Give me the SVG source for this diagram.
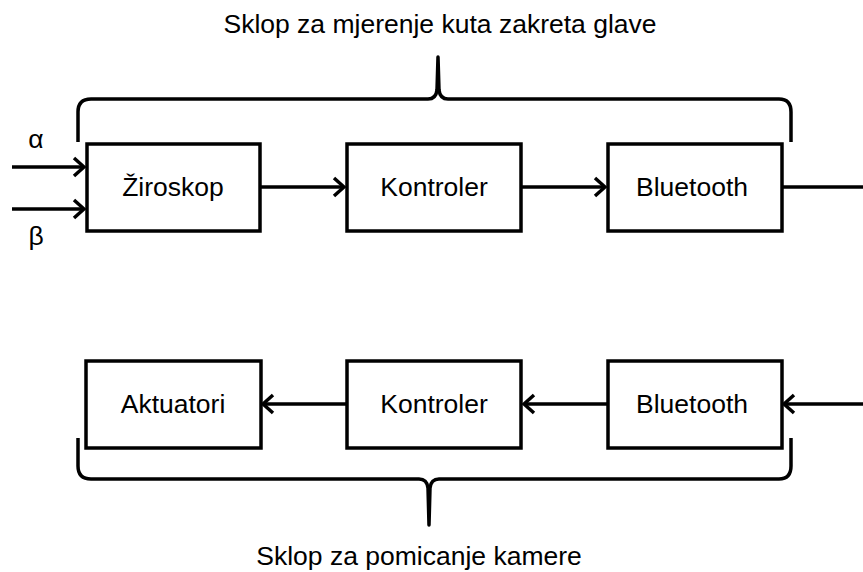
<svg xmlns="http://www.w3.org/2000/svg" width="863" height="572" viewBox="0 0 863 572">
<style>
.box{fill:#fff;stroke:#000;stroke-width:3.5}
.lbl{font-family:"Liberation Sans",Arial,sans-serif;font-size:26.5px;fill:#000;text-anchor:middle}
.ln{stroke:#000;stroke-width:3.5;fill:none}
.br{stroke:#000;stroke-width:3.5;fill:none;stroke-linejoin:round}
</style>
<defs>
<marker id="ah" viewBox="0 0 14 22" refX="12" refY="11" markerWidth="14" markerHeight="22" markerUnits="userSpaceOnUse" orient="auto">
<path d="M2,2 L12,11 L2,20" fill="none" stroke="#000" stroke-width="3.5" stroke-linejoin="miter"/>
</marker>
</defs>
<rect width="863" height="572" fill="#fff"/>
<g id="connectors">
<line class="ln" x1="12" y1="167" x2="84" y2="167" marker-end="url(#ah)"/>
<line class="ln" x1="12" y1="209" x2="84" y2="209" marker-end="url(#ah)"/>
<line class="ln" x1="260" y1="187" x2="344" y2="187" marker-end="url(#ah)"/>
<line class="ln" x1="522" y1="187" x2="605" y2="187" marker-end="url(#ah)"/>
<line class="ln" x1="782" y1="187" x2="863" y2="187"/>
<line class="ln" x1="863" y1="404" x2="784" y2="404" marker-end="url(#ah)"/>
<line class="ln" x1="607" y1="404" x2="524" y2="404" marker-end="url(#ah)"/>
<line class="ln" x1="346" y1="404" x2="263" y2="404" marker-end="url(#ah)"/>
</g>
<g id="brace-top">
<path class="br" d="M78,142 L78,112 Q78,99 91,99 L428,99 Q436,99 437,90 L438,57 L439,90 Q440,99 448,99 L779,99 Q791,99 791,112 L791,142"/>
<text class="lbl" x="440" y="33">Sklop za mjerenje kuta zakreta glave</text>
</g>
<g id="brace-bottom">
<path class="br" d="M78,438 L78,466 Q78,479 91,479 L419,479 Q427,479 428,488 L429,525 L430,488 Q431,479 439,479 L779,479 Q791,479 791,466 L791,438"/>
<text class="lbl" x="419" y="565">Sklop za pomicanje kamere</text>
</g>
<g id="alpha"><text class="lbl" x="36" y="148">α</text></g>
<g id="beta"><text class="lbl" x="36" y="245">β</text></g>
<g id="ziroskop">
<rect class="box" x="87" y="144" width="173" height="87"/>
<text class="lbl" x="173" y="196">Žiroskop</text>
</g>
<g id="kontroler-top">
<rect class="box" x="347" y="144" width="174" height="87"/>
<text class="lbl" x="434" y="196">Kontroler</text>
</g>
<g id="bluetooth-top">
<rect class="box" x="608" y="144" width="174" height="87"/>
<text class="lbl" x="692" y="196">Bluetooth</text>
</g>
<g id="aktuatori">
<rect class="box" x="86" y="361" width="175" height="87"/>
<text class="lbl" x="173" y="413">Aktuatori</text>
</g>
<g id="kontroler-bottom">
<rect class="box" x="347" y="361" width="174" height="87"/>
<text class="lbl" x="434" y="413">Kontroler</text>
</g>
<g id="bluetooth-bottom">
<rect class="box" x="608" y="361" width="174" height="87"/>
<text class="lbl" x="692" y="413">Bluetooth</text>
</g>
</svg>
